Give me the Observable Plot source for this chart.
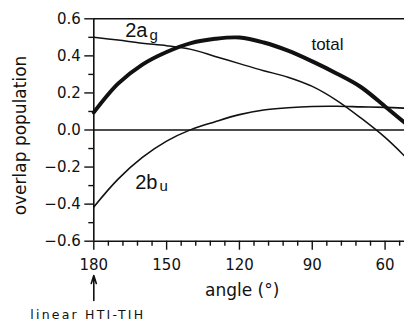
<!DOCTYPE html>
<html><head><meta charset="utf-8">
<script src="https://cdn.jsdelivr.net/npm/d3@7"></script>
<script src="https://cdn.jsdelivr.net/npm/@observablehq/plot@0.6"></script>
<style>body{margin:0;background:#fff}</style>
</head><body><div id="chart"></div>
<script>
// angle (degrees) and overlap populations
const angles = [180,170,160,150,140,130,120,110,100,90,80,70,60,52];
const total  = [0.095,0.25,0.353,0.421,0.469,0.492,0.499,0.472,0.428,0.37,0.305,0.232,0.127,0.04];
const ag2    = [0.50,0.485,0.468,0.455,0.435,0.397,0.358,0.32,0.285,0.235,0.16,0.065,-0.04,-0.14];
const bu2    = [-0.415,-0.265,-0.148,-0.06,0.002,0.045,0.083,0.108,0.12,0.127,0.128,0.125,0.122,0.118];

const xMajor = [180,150,120,90,60];
const xMinor = [174,168,162,156,144,138,132,126,114,108,102,96,84,78,72,66,54];
const yMajor = [-0.6,-0.4,-0.2,0,0.2,0.4,0.6];
const yMinor = [-0.5,-0.3,-0.1,0.1,0.3,0.5];

// curve labels: main text, subscript, anchor angle (right end), value (baseline)
const labelMain  = ["2a","2b","total"];
const labelSub   = ["g","u",""];
const labelAngle = [157.9,153.8,77.1];
const labelValue = [0.501,-0.316,0.429];
const labelSize  = [20,20,17];

const arrowAngle = [180];
const arrowFrom = [-0.92];
const arrowTo   = [-0.785];

const rows = (name, vals) => angles.map((a,i) => ({series:name, angle:a, v:vals[i]}));
const labels = labelMain.map((t,i) => ({t, sub:labelSub[i], angle:labelAngle[i], v:labelValue[i], size:labelSize[i]}));
const arrows = arrowAngle.map((a,i) => ({a, y1:arrowFrom[i], y2:arrowTo[i]}));

const ink = "#111";
const chart = Plot.plot({
  width: 404, height: 321,
  marginLeft: 93.3, marginRight: 0, marginTop: 18.3, marginBottom: 80.3,
  style: {fontFamily: "DejaVu Sans", fontSize: "15px", color: ink, background: "#fff"},
  x: {domain: [180, 52]},
  y: {domain: [-0.6, 0.6]},
  marks: [
    Plot.axisY(yMinor, {tickSize: 5, tickFormat: () => "", label: null, strokeWidth: 1.4}),
    Plot.axisY(yMajor, {tickSize: 9, tickPadding: 4, tickFormat: d3.format(".1f"), label: null, strokeWidth: 1.4, fontSize: 15}),
    Plot.axisX(xMinor, {tickSize: 5, tickFormat: () => "", label: null, strokeWidth: 1.4}),
    Plot.axisX(xMajor, {tickSize: 9, tickPadding: 9, tickFormat: d => String(d), label: null, strokeWidth: 1.4, fontSize: 15}),
    Plot.ruleY([0.6, 0, -0.6], {stroke: ink, strokeWidth: 1.5}),
    Plot.ruleX([180], {stroke: ink, strokeWidth: 1.6}),
    Plot.line(rows("2ag", ag2), {x: "angle", y: "v", stroke: ink, strokeWidth: 1.5, curve: "catmull-rom"}),
    Plot.line(rows("2bu", bu2), {x: "angle", y: "v", stroke: ink, strokeWidth: 1.6, curve: "catmull-rom"}),
    Plot.line(rows("total", total), {x: "angle", y: "v", stroke: ink, strokeWidth: 4, curve: "catmull-rom"}),
    Plot.text(labels, {x: "angle", y: "v", text: "t", textAnchor: "end", lineAnchor: "bottom",
      fontFamily: "Liberation Sans", fontSize: d => d.size, fill: ink}),
    Plot.text(labels, {x: "angle", y: "v", text: "sub", textAnchor: "start", lineAnchor: "bottom",
      dx: 2, dy: 2.5, fontFamily: "Liberation Sans", fontSize: 15, fill: ink}),
    Plot.text(["angle (°)"], {frameAnchor: "bottom", textAnchor: "middle", dx: -7, dy: 55, lineAnchor: "bottom", fontSize: 17, fill: ink}),
    Plot.text(["overlap population"], {frameAnchor: "left", textAnchor: "middle", rotate: -90, dx: -68, dy: 5.5, lineAnchor: "bottom", fontSize: 17, fill: ink}),
    Plot.arrow(arrows, {x1: "a", x2: "a", y1: "y1", y2: "y2", stroke: ink, strokeWidth: 1.6, headLength: 9, headAngle: 35}),
    Plot.text(["linear HTI-TIH"], {frameAnchor: "bottom-left", dx: -6, dy: 77.3, textAnchor: "middle", lineAnchor: "bottom", fontSize: 12.5, fill: ink})
  ]
});
d3.select(chart).selectAll("text").filter(function(){ return this.textContent === "linear HTI-TIH"; })
  .attr("letter-spacing", "2.2px");
document.getElementById("chart").appendChild(chart);
</script>
</body></html>
